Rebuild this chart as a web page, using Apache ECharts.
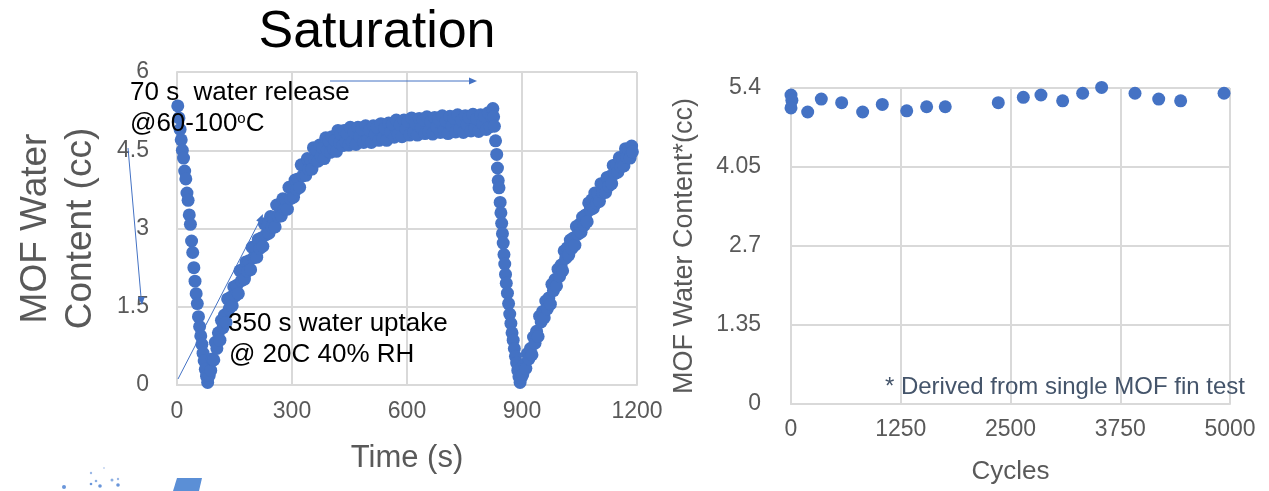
<!DOCTYPE html>
<html>
<head>
<meta charset="utf-8">
<script src="https://cdn.jsdelivr.net/npm/echarts@6/dist/echarts.min.js"></script>
<style>
  html, body { margin: 0; padding: 0; background: #fff; }
  #chart { width: 1269px; height: 491px; }
</style>
</head>
<body>
<div id="chart"></div>
<script>
// left chart: one saturation cycle, [time s, water cc]
var drop1 = [[2,5.35],[5,5.12],[8,4.9],[11,4.7],[14,4.5],[17,4.35],[20,4.1],[23,3.95],[26,3.68],[29,3.54],[32,3.26],[35,3.08],[38,2.76],[41,2.54],[44,2.25],[47,1.99],[50,1.75],[53,1.56],[56,1.31],[59,1.12],[62,0.94],[65,0.78],[68,0.61],[71,0.46],[74,0.3],[77,0.17],[80,0.05]];
var rise1 = [[84,0.18],[88,0.28],[92,0.5],[96,0.48],[100,0.82],[104,0.7],[108,1.0],[112,0.86],[116,1.24],[120,1.1],[124,1.34],[128,1.2],[132,1.65],[136,1.46],[140,1.68],[144,1.52],[148,1.88],[152,1.71],[156,1.91],[160,1.75],[164,2.19],[168,2.0],[172,2.22],[176,2.03],[180,2.36],[184,2.18],[188,2.38],[192,2.21],[196,2.64],[200,2.44],[204,2.64],[208,2.45],[212,2.79],[216,2.62],[220,2.82],[224,2.66],[228,3.09],[232,2.88],[236,3.09],[240,2.91],[244,3.23],[248,3.03],[252,3.21],[256,3.03],[260,3.45],[264,3.23],[268,3.44],[272,3.24],[276,3.57],[280,3.37],[284,3.55],[288,3.37],[292,3.79],[296,3.57],[300,3.78],[304,3.6],[308,3.93],[312,3.75],[316,3.95],[320,3.79],[324,4.22],[328,4.01],[332,4.22],[336,4.02],[340,4.34],[344,4.14],[348,4.32],[352,4.14],[356,4.55],[360,4.32],[364,4.5],[368,4.29],[372,4.6],[376,4.38],[380,4.54],[384,4.34],[388,4.74],[392,4.5],[396,4.68],[400,4.46],[404,4.76],[408,4.53],[412,4.69],[416,4.48],[420,4.88],[424,4.64],[428,4.81],[432,4.59],[436,4.88],[440,4.66],[444,4.81],[448,4.6]];
var hold = [[452,4.94],[457,4.66],[462,4.85],[467,4.61],[472,4.94],[477,4.76],[482,4.9],[487,4.65],[492,4.97],[497,4.7],[502,4.88],[507,4.65],[512,4.97],[517,4.8],[522,4.94],[527,4.69],[532,5.01],[537,4.74],[542,4.92],[547,4.69],[552,5.02],[557,4.85],[562,5.0],[567,4.75],[572,5.08],[577,4.8],[582,4.99],[587,4.76],[592,5.08],[597,4.91],[602,5.05],[607,4.79],[612,5.12],[617,4.84],[622,5.02],[627,4.79],[632,5.11],[637,4.93],[642,5.08],[647,4.82],[652,5.14],[657,4.86],[662,5.05],[667,4.81],[672,5.13],[677,4.95],[682,5.1],[687,4.84],[692,5.16],[697,4.88],[702,5.06],[707,4.82],[712,5.15],[717,4.97],[722,5.11],[727,4.85],[732,5.18],[737,4.9],[742,5.08],[747,4.84],[752,5.16],[757,4.99],[762,5.13],[767,4.87],[772,5.19],[777,4.92],[782,5.1],[787,4.86],[792,5.18],[797,5.01],[802,5.15],[807,4.9],[812,5.22],[817,4.95],[821,5.14]];
var drop2 = [[824,5.3],[826,5.14],[828,4.96],[831,4.68],[834,4.42],[836,4.16],[838,3.92],[840,3.78],[843,3.5],[845,3.3],[847,3.1],[849,2.9],[851,2.72],[853,2.5],[855,2.32],[857,2.12],[859,1.95],[862,1.76],[865,1.56],[868,1.36],[871,1.18],[874,1.0],[877,0.86],[880,0.7],[883,0.55],[886,0.42],[889,0.28],[892,0.16],[895,0.05]];
var rise2 = [[898,0.14],[902,0.2],[906,0.4],[910,0.32],[914,0.6],[918,0.5],[922,0.7],[926,0.58],[930,0.92],[934,0.8],[938,1.03],[942,0.93],[946,1.32],[950,1.21],[954,1.41],[958,1.29],[962,1.61],[966,1.46],[970,1.67],[974,1.55],[978,1.93],[982,1.81],[986,2.02],[990,1.9],[994,2.22],[998,2.08],[1002,2.3],[1006,2.19],[1010,2.57],[1014,2.43],[1018,2.63],[1022,2.49],[1026,2.78],[1030,2.62],[1034,2.82],[1038,2.68],[1042,3.04],[1046,2.89],[1050,3.08],[1054,2.93],[1058,3.22],[1062,3.06],[1066,3.26],[1070,3.13],[1074,3.49],[1078,3.36],[1082,3.55],[1086,3.39],[1090,3.68],[1094,3.49],[1098,3.67],[1102,3.52],[1106,3.86],[1110,3.69],[1114,3.85],[1118,3.69],[1122,3.98],[1126,3.81],[1130,4.0],[1134,3.86],[1138,4.21],[1142,4.05],[1146,4.23],[1150,4.08],[1154,4.36],[1158,4.18],[1162,4.35],[1166,4.2],[1170,4.53],[1174,4.36],[1178,4.52],[1182,4.35],[1186,4.58],[1188,4.47]];

// right chart: cycling test
var cycles = [0, 10, 0, 190, 345, 577, 816, 1040, 1318, 1545, 1757, 2361, 2646, 2847, 3094, 3322, 3538, 3918, 4188, 4438, 4932];
var mofCc = [5.28, 5.19, 5.06, 4.99, 5.21, 5.15, 4.99, 5.12, 5.01, 5.08, 5.08, 5.15, 5.24, 5.28, 5.18, 5.31, 5.41, 5.31, 5.21, 5.18, 5.31];

var timeTicks = [0, 300, 600, 900, 1200];
var cycleTicks = [0, 1250, 2500, 3750, 5000];

var FONT = '"Liberation Sans", Arial, Helvetica, sans-serif';
var BLUE = '#4472c4';
var GRID = '#d9d9d9';
var LABEL = '#595959';

var chart = echarts.init(document.getElementById('chart'), null, {renderer: 'canvas'});

function axisCommon() {
	return {
		type: 'value',
		axisLine: {show: true, lineStyle: {color: GRID, width: 2}},
		axisTick: {show: false},
		splitLine: {show: true, lineStyle: {color: GRID, width: 2}},
		axisLabel: {color: LABEL, fontSize: 23, fontFamily: FONT, formatter: function (v) { return String(+v.toFixed(2)); }},
		nameLocation: 'middle',
		nameTextStyle: {color: LABEL, fontFamily: FONT}
	};
}

var xLeft = axisCommon();
xLeft.gridIndex = 0;
xLeft.min = timeTicks[0];
xLeft.max = timeTicks[timeTicks.length - 1];
xLeft.interval = timeTicks[1] - timeTicks[0];
xLeft.axisLabel.margin = 15;
xLeft.name = 'Time (s)';
xLeft.nameGap = 58;
xLeft.nameTextStyle.fontSize = 31;

var yLeft = axisCommon();
yLeft.gridIndex = 0;
yLeft.min = 0;
yLeft.max = 6;
yLeft.interval = 1.5;
yLeft.axisLabel.margin = 28;
yLeft.name = 'MOF Water\nContent (cc)';
yLeft.nameGap = 74;
yLeft.nameTextStyle.fontSize = 37;
yLeft.nameTextStyle.lineHeight = 45;

var xRight = axisCommon();
xRight.gridIndex = 1;
xRight.min = cycleTicks[0];
xRight.max = cycleTicks[cycleTicks.length - 1];
xRight.interval = cycleTicks[1] - cycleTicks[0];
xRight.axisLabel.margin = 14;
xRight.name = 'Cycles';
xRight.nameGap = 55;
xRight.nameTextStyle.fontSize = 26;

var yRight = axisCommon();
yRight.gridIndex = 1;
yRight.min = 0;
yRight.max = 5.4;
yRight.interval = 1.35;
yRight.axisLabel.margin = 30;
yRight.name = 'MOF Water Content*(cc)';
yRight.nameGap = 93;
yRight.nameTextStyle.fontSize = 27;

function txt(x, y, s, size, extra) {
	var st = {text: s, fontSize: size, fontFamily: FONT, fill: '#000', align: 'left', verticalAlign: 'middle'};
	for (var k in extra) st[k] = extra[k];
	return {type: 'text', x: x, y: y, style: st, z: 10};
}
function arrowLine(x1, y1, x2, y2) {
	return {type: 'line', shape: {x1: x1, y1: y1, x2: x2, y2: y2}, style: {stroke: BLUE, lineWidth: 1}, z: 10};
}
function head(pts) {
	return {type: 'polygon', shape: {points: pts}, style: {fill: BLUE}, z: 10};
}

var option = {
	animation: false,
	textStyle: {fontFamily: FONT},
	grid: [
		{left: 177, top: 72, width: 460, height: 313},
		{left: 791, top: 88, width: 439, height: 316}
	],
	xAxis: [xLeft, xRight],
	yAxis: [yLeft, yRight],
	series: [
		{
			type: 'scatter',
			xAxisIndex: 0, yAxisIndex: 0,
			data: drop1.concat(rise1, hold, drop2, rise2),
			symbol: 'circle', symbolSize: 13,
			itemStyle: {color: BLUE, opacity: 1},
			clip: false
		},
		{
			type: 'scatter',
			xAxisIndex: 1, yAxisIndex: 1,
			data: cycles.map(function (c, i) { return [c, mofCc[i]]; }),
			symbol: 'circle', symbolSize: 13,
			itemStyle: {color: BLUE, opacity: 1},
			clip: false
		}
	],
	graphic: [
		txt(377, 33, 'Saturation', 52, {align: 'center'}),
		txt(130, 93, '70 s  water release', 26),
		txt(130, 124, '@60-100{s|o}C', 26, {rich: {s: {fontSize: 15, verticalAlign: 'top', fontFamily: FONT, fill: '#000'}}}),
		txt(228, 324, '350 s water uptake', 26),
		txt(229, 355, '@ 20C 40% RH', 26),
		txt(1245, 387, '* Derived from single MOF fin test', 24, {align: 'right', fill: '#44546a'}),
		arrowLine(330, 81, 470, 81),
		head([[477, 81], [469, 77.5], [469, 84.5]]),
		arrowLine(178, 379, 259, 222),
		head([[263, 214], [262.4, 223.7], [256.2, 220.5]]),
		arrowLine(128, 148, 141, 297),
		head([[142, 305], [144.8, 296.7], [137.8, 297.3]]),
		// cropped picture fragments at bottom left
		{type: 'polygon', shape: {points: [[177, 478], [202, 478], [199, 491], [173, 491]]}, style: {fill: '#5b8fd6'}},
		{type: 'circle', shape: {cx: 64, cy: 487, r: 2}, style: {fill: '#6a96da'}},
		{type: 'circle', shape: {cx: 91, cy: 473, r: 1.2}, style: {fill: '#9bb8e6'}},
		{type: 'circle', shape: {cx: 91, cy: 484, r: 1.3}, style: {fill: '#6a96da'}},
		{type: 'circle', shape: {cx: 96, cy: 481, r: 1.3}, style: {fill: '#8aaee2'}},
		{type: 'circle', shape: {cx: 100, cy: 486, r: 1.8}, style: {fill: '#6a96da'}},
		{type: 'circle', shape: {cx: 112, cy: 480, r: 1.5}, style: {fill: '#8aaee2'}},
		{type: 'circle', shape: {cx: 118, cy: 485, r: 1.8}, style: {fill: '#6a96da'}},
		{type: 'circle', shape: {cx: 118, cy: 479, r: 1.2}, style: {fill: '#9bb8e6'}},
		{type: 'circle', shape: {cx: 104, cy: 468, r: 1}, style: {fill: '#c3d4f0'}}
	]
};

chart.setOption(option);
</script>
</body>
</html>
